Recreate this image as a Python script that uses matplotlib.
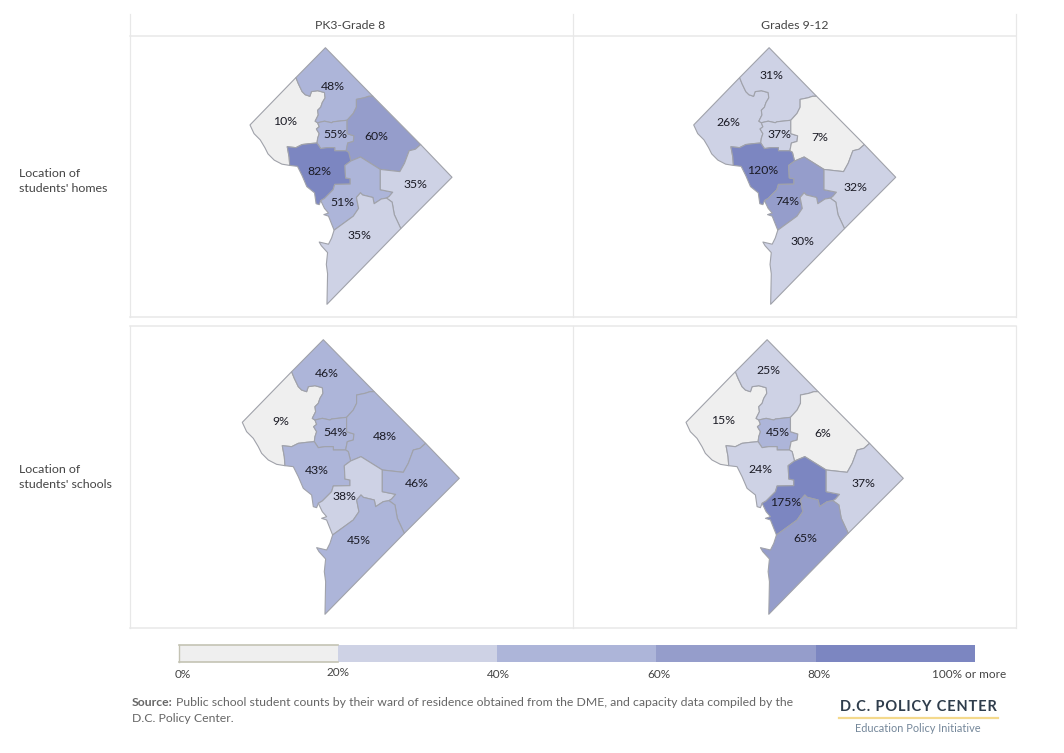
import numpy as np
import matplotlib
matplotlib.use('Agg')
import matplotlib.pyplot as plt

plt.rcParams['font.family'] = ['Lato', 'DejaVu Sans']

W, H = 1064, 753

# ward values, order: nw, north, center, ne, west, mid, east, south
wards = ['nw', 'north', 'center', 'ne', 'west', 'mid', 'east', 'south']
homes_elem = [10, 48, 55, 60, 82, 51, 35, 35]
homes_high = [26, 31, 37, 7, 120, 74, 32, 30]
schools_elem = [9, 46, 54, 48, 43, 38, 46, 45]
schools_high = [15, 25, 45, 6, 24, 175, 37, 65]

col_titles = ['PK3-Grade 8', 'Grades 9-12']
legend_bins = [0, 20, 40, 60, 80]
legend_labels = ['0%', '20%', '40%', '60%', '80%', '100% or more']
colors = ['#efefef', '#ced2e5', '#adb5d9', '#959dcb', '#7c86c1']

nw_north = [(170, 110), (178, 130), (190, 155), (200, 165), (215, 170), (220, 155), (240, 152), (262, 158),
            (264, 175), (255, 190), (250, 205), (240, 215), (242, 230), (232, 250), (240, 255)]
nw_center = [(240, 255), (245, 268), (236, 275), (245, 290), (240, 305), (238, 320)]
nw_west = [(238, 320), (215, 322), (190, 325), (170, 335), (142, 332), (148, 365), (150, 392)]
nw_river = [(150, 392), (125, 388), (100, 375), (80, 355), (70, 335), (55, 310), (35, 290), (22, 262)]
north_center = [(240, 255), (262, 250), (285, 255), (290, 252), (335, 247)]
north_ne = [(335, 247), (355, 225), (365, 205), (365, 180), (390, 175), (405, 170), (418, 170)]
center_ne = [(335, 247), (335, 290), (357, 297), (355, 315), (337, 320), (332, 345)]
center_west = [(238, 320), (250, 338), (270, 335), (295, 335), (295, 345), (332, 345)]
west_ne = [(332, 345), (340, 350), (347, 378)]
west_mid = [(347, 378), (328, 392), (330, 432), (345, 435), (345, 452), (295, 453), (290, 470), (262, 498),
            (250, 505)]
west_river = [(150, 392), (175, 395), (190, 425), (205, 460), (230, 480), (235, 515), (245, 518), (250, 505)]
mid_ne = [(347, 378), (378, 365), (442, 405)]
east_ne = [(442, 405), (505, 412), (520, 385), (535, 345), (555, 340), (572, 325)]
mid_east = [(442, 405), (442, 470), (482, 478), (470, 492), (462, 497)]
mid_south = [(462, 497), (445, 500), (422, 515), (418, 495), (385, 487), (378, 480), (365, 495), (372, 530),
             (355, 555), (293, 600)]
east_south = [(462, 497), (480, 510), (487, 550), (508, 595)]
mid_river = [(250, 505), (262, 530), (275, 545), (260, 550), (275, 555), (285, 580), (293, 600)]
south_river = [(293, 600), (285, 625), (275, 645), (245, 638), (252, 650), (272, 672), (268, 710), (272, 740),
               (270, 838)]
apex = (265, 14)
east_tip = (673, 430)


def ring(*chains):
    pts = []
    for c in chains:
        pts += list(c)
    return np.array(pts)


shapes = {
    'nw': ring(nw_north, nw_center, nw_west, nw_river),
    'north': ring([apex], north_ne[::-1], north_center[::-1], nw_north[::-1]),
    'center': ring(north_center, center_ne, center_west[::-1], nw_center[::-1]),
    'ne': ring(north_ne[::-1], center_ne, west_ne, mid_ne, east_ne),
    'west': ring(center_west, west_ne, west_mid, west_river[::-1], nw_west[::-1]),
    'mid': ring(west_mid, mid_river, mid_south[::-1], mid_east[::-1], mid_ne[::-1]),
    'east': ring(east_ne, [east_tip], east_south[::-1], mid_east[::-1]),
    'south': ring(mid_south[::-1], east_south, south_river[::-1]),
}

# map boxes in pixels: left, right, top, bottom
map_boxes = [(250, 452, 47.7, 304.3), (693.7, 895.7, 47.7, 304.3),
             (242.3, 459.3, 339.7, 614.3), (686, 903.3, 339.7, 614.3)]
panels = [homes_elem, homes_high, schools_elem, schools_high]

# label centers in pixels
label_xy = [
    [(285, 121), (333, 86), (335, 134), (376, 136), (319, 171), (342, 202), (415, 184), (359, 235)],
    [(728, 122), (771, 75), (779, 134), (820, 137), (763, 170), (787, 201), (855, 187), (802, 241)],
    [(281, 421), (327, 373), (335, 432), (385, 436), (317, 470), (344, 496), (417, 483), (359, 541)],
    [(723, 420), (768, 370), (778, 432), (823, 433), (760, 469), (786, 502), (863, 483), (805, 539)],
]

fig = plt.figure(figsize=(W / 100, H / 100), dpi=100)

for box, values in zip(map_boxes, panels):
    left, right, top, bottom = box
    ax = fig.add_axes([left / W, 1 - bottom / H, (right - left) / W, (bottom - top) / H])
    ax.set_xlim(22, 673)
    ax.set_ylim(838, 14)
    ax.axis('off')
    for name, v in zip(wards, values):
        idx = np.digitize(v, legend_bins) - 1
        ax.fill(shapes[name][:, 0], shapes[name][:, 1], facecolor=colors[idx], edgecolor='#a0a2aa',
                linewidth=0.8, joinstyle='round', clip_on=False)

# colour key
key = fig.add_axes([178.5 / W, 1 - 661.5 / H, (975 - 178.5) / W, 16.5 / H])
key.barh(0, [20] * 5, left=legend_bins, height=1, color=colors, align='center')
key.set_xlim(0, 100)
key.set_ylim(-0.5, 0.5)
key.set_xticks([])
key.set_yticks([])
for s in key.spines.values():
    s.set_color('#c4c3b4')
    s.set_linewidth(1)
for s in ['top', 'bottom', 'right']:
    key.spines[s].set_visible(False)
key.plot([0, 20], [0.5, 0.5], color='#c4c3b4', lw=1.2, clip_on=False)
key.plot([0, 20], [-0.5, -0.5], color='#c4c3b4', lw=1.2, clip_on=False)

# overlay in pixel coordinates for frames and text
ov = fig.add_axes([0, 0, 1, 1], facecolor='none')
ov.set_xlim(0, W)
ov.set_ylim(H, 0)
ov.axis('off')

line = '#e8e8e8'
for x in [129.5, 572.5, 1016]:
    ov.plot([x, x], [14, 317], color=line, lw=0.9)
    ov.plot([x, x], [326, 628], color=line, lw=0.9)
for y in [35.5, 317, 326, 628]:
    ov.plot([129.5, 1016], [y, y], color=line, lw=1.1)

for x, t in zip([350.5, 794.5], col_titles):
    ov.text(x, 25, t, ha='center', va='center', fontsize=8.8, color='#444444')

for y, t in zip([173, 188, 469.5, 484.5],
                ['Location of', "students' homes", 'Location of', "students' schools"]):
    ov.text(19, y, t, ha='left', va='center', fontsize=8.9, color='#444444')

for xy, values in zip(label_xy, panels):
    for (x, y), v in zip(xy, values):
        ov.text(x, y, f'{v}%', ha='center', va='center', fontsize=8.8, color='#1a1a24')

for x, y, t in zip([183, 338, 498, 659, 819, 969], [674, 672, 674, 674, 674, 674], legend_labels):
    ov.text(x, y, t, ha='center', va='center', fontsize=8.45, color='#444444')

src = '#666666'
ov.text(131.5, 703, 'Source:', ha='left', va='center', fontsize=8.85, color=src, fontweight='bold')
ov.text(176, 703, 'Public school student counts by their ward of residence obtained from the DME, and capacity data compiled by the',
        ha='left', va='center', fontsize=8.85, color=src)
ov.text(131.5, 718, 'D.C. Policy Center.', ha='left', va='center', fontsize=8.85, color=src)

ov.text(918.5, 707, '\u200a'.join('D.C. POLICY CENTER'), ha='center', va='center', fontsize=10.5, color='#2f3d4c',
        fontweight='bold')
ov.plot([839, 998], [718, 718], color='#f4d98c', lw=1.6)
ov.text(918, 729, 'Education Policy Initiative', ha='center', va='center', fontsize=7.9, color='#74879a')

fig.savefig('out.png', dpi=100)
